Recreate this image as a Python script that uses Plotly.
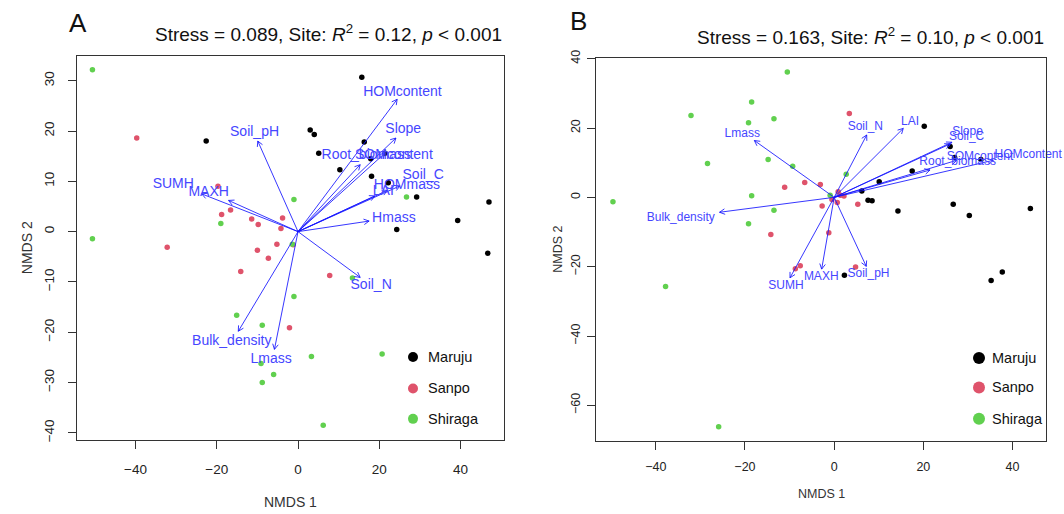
import math
import plotly.graph_objects as go

W, H = 1064, 514

# ---------------- Panel A data ----------------
a_maruju_x = [15.7, -22.6, 3.0, 4.0, 16.3, 5.1, 17.9, 21.4, 10.3, 18.1, 22.2, 29.2, 47.0, 39.3, 24.3, 46.7]
a_maruju_y = [30.7, 18.0, 20.2, 19.3, 17.8, 15.6, 14.5, 15.6, 12.3, 11.0, 9.7, 6.9, 5.9, 2.2, 0.4, -4.3]
a_sanpo_x = [-39.7, -19.7, -16.6, -18.8, -11.4, -3.8, -9.8, -4.2, -32.2, -5.2, -1.2, -10.0, -7.3, -14.1, 7.8, -2.1]
a_sanpo_y = [18.6, 9.0, 4.3, 3.4, 2.5, 2.7, 1.4, 0.6, -3.1, -2.5, -2.6, -3.7, -5.3, -7.9, -8.7, -19.1]
a_shiraga_x = [-50.6, 26.7, -1.0, -19.0, -50.6, -1.4, 13.4, -1.0, -15.1, -8.8, 3.3, 20.7, -9.1, -6.0, -8.8, 6.2]
a_shiraga_y = [32.2, 6.9, 6.4, 1.6, -1.4, -2.5, -9.2, -12.9, -16.6, -18.6, -24.8, -24.3, -26.2, -28.4, -30.0, -38.5]

a_vars = ["HOMcontent", "Slope", "Soil_pH", "SUMH", "MAXH", "Root_biomass", "SOMcontent",
          "Soil_C", "HOMmass", "LAI", "Hmass", "Soil_N", "Bulk_density", "Lmass"]
a_arrow_x = [24.4, 24.1, -9.9, -23.7, -17.1, 15.3, 21.4, 25.1, 22.0, 18.9, 17.5, 15.3, -14.7, -5.8]
a_arrow_y = [26.3, 18.6, 18.0, 7.5, 6.2, 13.3, 15.6, 9.1, 8.2, 7.1, 2.1, -9.1, -19.8, -23.4]
a_label_x = [25.7, 25.9, -10.7, -30.7, -22.0, 16.8, 23.6, 30.8, 26.8, 21.0, 23.6, 18.0, -16.3, -6.6]
a_label_y = [27.6, 20.3, 19.7, 9.3, 7.7, 15.1, 15.1, 11.2, 9.2, 8.0, 2.7, -10.7, -21.8, -25.5]

# ---------------- Panel B data ----------------
b_maruju_x = [20.2, 26.0, 27.0, 32.9, 17.5, 10.1, 6.2, 7.6, 8.5, 14.3, 26.7, 30.3, 44.0, 2.3, 35.2, 37.7]
b_maruju_y = [20.5, 14.7, 11.5, 10.9, 7.6, 4.5, 1.8, -0.8, -1.0, -3.9, -2.0, -5.2, -3.2, -22.5, -24.0, -21.5]
b_sanpo_x = [3.4, -11.1, -6.6, -3.1, -2.7, 0.9, 2.2, 0.7, 5.3, -14.2, -1.2, -8.7, -7.6, 4.8, -0.5, 1.4]
b_sanpo_y = [24.2, 2.9, 4.3, 3.7, -2.5, 1.6, 0.4, -1.5, -2.0, -10.7, -10.2, -20.6, -19.7, -20.1, -0.6, 0.6]
b_shiraga_x = [-49.6, -32.1, -18.5, -19.2, -10.5, -13.5, -28.4, -14.8, -9.3, -18.5, -13.5, -19.2, 2.7, -0.9, -37.8, -25.9]
b_shiraga_y = [-1.3, 23.6, 27.5, 21.5, 36.2, 22.7, 9.8, 10.9, 9.0, 0.5, -3.7, -7.6, 6.7, 0.6, -25.7, -66.2]

b_vars = ["Lmass", "Bulk_density", "Soil_N", "LAI", "Slope", "Soil_C", "SOMcontent",
          "HOMcontent", "Root_biomass", "SUMH", "MAXH", "Soil_pH"]
b_arrow_x = [-17.9, -25.7, 7.3, 15.5, 26.4, 26.0, 27.5, 35.7, 21.5, -9.9, -2.8, 7.2]
b_arrow_y = [16.4, -4.3, 18.0, 19.9, 15.9, 15.4, 10.7, 10.7, 7.9, -23.2, -20.7, -19.9]
b_label_x = [-20.6, -34.4, 7.0, 17.0, 29.9, 29.7, 32.7, 43.5, 27.7, -10.8, -2.9, 7.7]
b_label_y = [18.3, -5.9, 20.2, 21.8, 18.8, 17.3, 11.7, 12.2, 10.1, -25.7, -23.0, -22.1]

sites = ["Maruju", "Sanpo", "Shiraga"]
site_colors = ["#000000", "#DF536B", "#61D04F"]

titles = ["Stress = 0.089, Site: <i>R</i><sup>2</sup> = 0.12, <i>p</i> &lt; 0.001",
          "Stress = 0.163, Site: <i>R</i><sup>2</sup> = 0.10, <i>p</i> &lt; 0.001"]
panel_letters = ["A", "B"]

# ---------------- Layout geometry ----------------
panels = [
    dict(xd=[77 / W, 504 / W], yd=[1 - 441 / H, 1 - 49 / H], xr=[-54.4, 50.7], yr=[-41.5, 34.9],
         xt=[-40, -20, 0, 20, 40], yt=[-40, -30, -20, -10, 0, 10, 20, 30],
         fs=14, lab_fs=14, tick_fs=13.5, stand_y=9, stand_x=8,
         ylab_x=27, xlab_y=504, letter=(78, 15), title=(504, 26),
         leg_dot_x=413, leg_text_x=426, leg_y=[356, 388, 419], dot=10),
    dict(xd=[596 / W, 1046 / W], yd=[1 - 442 / H, 1 - 51 / H], xr=[-53.4, 47.5], yr=[-70.4, 40.2],
         xt=[-40, -20, 0, 20, 40], yt=[-60, -40, -20, 0, 20, 40],
         fs=12.5, lab_fs=12, tick_fs=12.5, stand_y=2, stand_x=6,
         ylab_x=558, xlab_y=496, letter=(578, 13), title=(1046, 29),
         leg_dot_x=979, leg_text_x=990, leg_y=[357, 387, 419], dot=12),
]

pts = [
    [(a_maruju_x, a_maruju_y), (a_sanpo_x, a_sanpo_y), (a_shiraga_x, a_shiraga_y)],
    [(b_maruju_x, b_maruju_y), (b_sanpo_x, b_sanpo_y), (b_shiraga_x, b_shiraga_y)],
]
arrows = [(a_vars, a_arrow_x, a_arrow_y, a_label_x, a_label_y),
          (b_vars, b_arrow_x, b_arrow_y, b_label_x, b_label_y)]

ARROW_COL = "rgba(20,20,255,0.85)"
LABEL_COL = "#4646ff"
AX_COL = "#333333"
FONT = "Liberation Sans, Arial, Helvetica, sans-serif"

fig = go.Figure()
annotations = []
shapes = []


def ann(text, x, y, size, color, xanchor="center", yanchor="middle", angle=0):
    return dict(text=text, xref="paper", yref="paper", x=x, y=y, xanchor=xanchor,
                yanchor=yanchor, textangle=angle, showarrow=False,
                font=dict(size=size, color=color, family=FONT))


for i, p in enumerate(panels):
    xa = "x" if i == 0 else "x2"
    ya = "y" if i == 0 else "y2"
    # points
    for (sx_, sy_), col in zip(pts[i], site_colors):
        fig.add_trace(go.Scatter(x=sx_, y=sy_, mode="markers", xaxis=xa, yaxis=ya,
                                 marker=dict(size=5.5, color=col), showlegend=False,
                                 hoverinfo="skip"))
    # arrows (lines + V heads computed in pixel space from data)
    names, axs, ays, lxs, lys = arrows[i]
    kx = (p["xd"][1] - p["xd"][0]) * W / (p["xr"][1] - p["xr"][0])
    ky = (p["yd"][1] - p["yd"][0]) * H / (p["yr"][1] - p["yr"][0])
    lx, ly = [], []
    L = 6.0
    ang = math.radians(28)
    for x, y in zip(axs, ays):
        lx += [0, x, None]
        ly += [0, y, None]
        px, py = x * kx, y * ky
        n = math.hypot(px, py)
        ux, uy = px / n, py / n
        head = []
        for s in (1, -1):
            a = s * ang
            rx = ux * math.cos(a) - uy * math.sin(a)
            ry = ux * math.sin(a) + uy * math.cos(a)
            head.append(((px - L * rx) / kx, (py - L * ry) / ky))
        lx += [head[0][0], x, head[1][0], None]
        ly += [head[0][1], y, head[1][1], None]
    fig.add_trace(go.Scatter(x=lx, y=ly, mode="lines", xaxis=xa, yaxis=ya,
                             line=dict(color=ARROW_COL, width=1), showlegend=False,
                             hoverinfo="skip"))
    fig.add_trace(go.Scatter(x=lxs, y=lys, text=names, mode="text", xaxis=xa, yaxis=ya,
                             textposition="middle center", cliponaxis=False,
                             textfont=dict(color=LABEL_COL, size=p["lab_fs"], family=FONT),
                             showlegend=False, hoverinfo="skip"))

    # axis titles
    annotations.append(ann("NMDS 1", (p["xd"][0] + p["xd"][1]) / 2, 1 - p["xlab_y"] / H,
                           p["fs"], AX_COL))
    annotations.append(ann("NMDS 2", p["ylab_x"] / W, (p["yd"][0] + p["yd"][1]) / 2,
                           p["fs"], AX_COL, angle=-90))
    # panel letter and title
    annotations.append(ann(panel_letters[i], p["letter"][0] / W, 1 - p["letter"][1] / H,
                           26, "#111"))
    annotations.append(ann(titles[i], p["title"][0] / W, 1 - p["title"][1] / H, 19, "#111",
                           xanchor="right"))
    # legend
    for name, col, yy in zip(sites, site_colors, p["leg_y"]):
        r = p["dot"] / 2
        shapes.append(dict(type="circle", xref="paper", yref="paper",
                           xsizemode="pixel", ysizemode="pixel",
                           xanchor=p["leg_dot_x"] / W, yanchor=1 - yy / H,
                           x0=-r, x1=r, y0=-r, y1=r,
                           fillcolor=col, line=dict(width=0)))
        annotations.append(ann(name, p["leg_text_x"] / W, 1 - yy / H, 14.5, "#111",
                               xanchor="left"))


def xaxis_cfg(p):
    return dict(domain=p["xd"], range=p["xr"], tickvals=p["xt"], ticks="outside", ticklen=8,
                tickcolor=AX_COL, showline=True, linecolor=AX_COL, linewidth=1, mirror=True,
                showgrid=False, zeroline=False, ticklabelstandoff=p["stand_x"],
                tickfont=dict(size=p["tick_fs"], color="#222", family=FONT))


def yaxis_cfg(p, anchor):
    return dict(domain=p["yd"], range=p["yr"], tickvals=p["yt"], ticks="outside", ticklen=8,
                tickcolor=AX_COL, showline=True, linecolor=AX_COL, linewidth=1, mirror=True,
                showgrid=False, zeroline=False, tickangle=-90, anchor=anchor,
                ticklabelstandoff=p["stand_y"],
                tickfont=dict(size=p["tick_fs"], color="#222", family=FONT))


fig.update_layout(
    width=W, height=H, margin=dict(l=0, r=0, t=0, b=0),
    paper_bgcolor="white", plot_bgcolor="white",
    font=dict(family=FONT),
    xaxis=dict(xaxis_cfg(panels[0]), anchor="y"),
    yaxis=yaxis_cfg(panels[0], "x"),
    xaxis2=dict(xaxis_cfg(panels[1]), anchor="y2"),
    yaxis2=yaxis_cfg(panels[1], "x2"),
    annotations=annotations, shapes=shapes, showlegend=False,
)

fig.write_html("out.html", config={"displayModeBar": False},
               post_script="document.body.style.margin='0px';document.body.style.overflow='hidden';")
